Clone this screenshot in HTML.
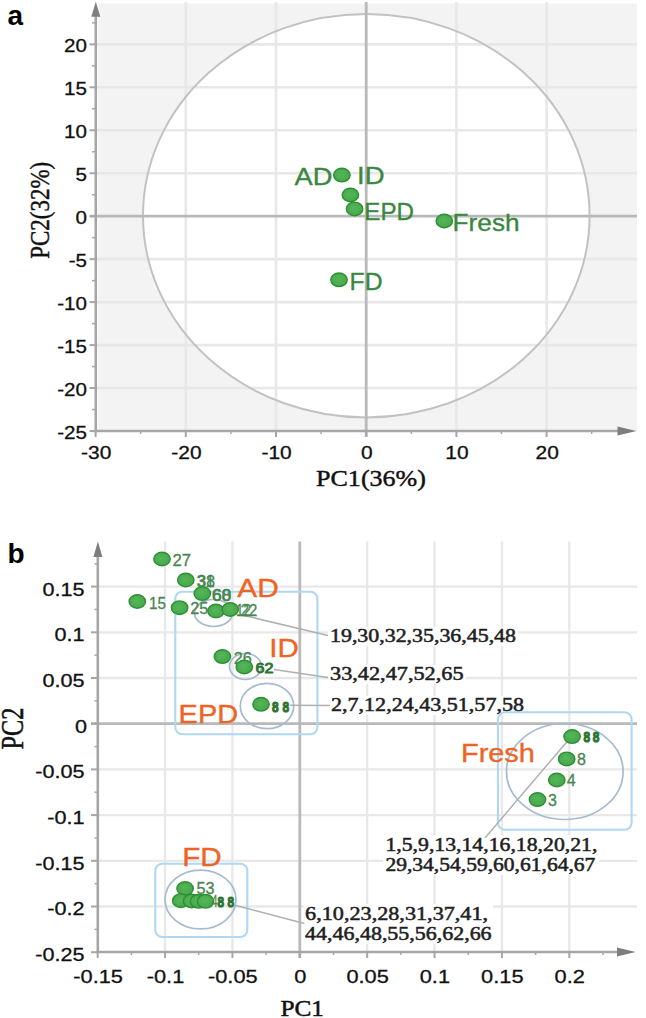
<!DOCTYPE html>
<html><head><meta charset="utf-8"><style>
html,body{margin:0;padding:0;background:#fff;}
svg{display:block;}
</style></head><body>
<svg width="646" height="1018" viewBox="0 0 646 1018">
<defs>
<radialGradient id="gd" cx="45%" cy="45%" r="60%">
<stop offset="0" stop-color="#56b55a"/><stop offset="1" stop-color="#44a849"/>
</radialGradient>
</defs>
<rect width="646" height="1018" fill="#fff"/>
<rect x="98.5" y="3.5" width="538.5" height="427.5" fill="#f3f3f3"/>
<ellipse cx="366.3" cy="215.7" rx="223.3" ry="201.7" fill="#ffffff"/>
<line x1="185.80" y1="2.00" x2="185.80" y2="431.00" stroke="#e8e8e8" stroke-width="2.6"/>
<line x1="276.00" y1="2.00" x2="276.00" y2="431.00" stroke="#e8e8e8" stroke-width="2.6"/>
<line x1="456.40" y1="2.00" x2="456.40" y2="431.00" stroke="#e8e8e8" stroke-width="2.6"/>
<line x1="546.60" y1="2.00" x2="546.60" y2="431.00" stroke="#e8e8e8" stroke-width="2.6"/>
<line x1="96.00" y1="44.34" x2="637.00" y2="44.34" stroke="#e8e8e8" stroke-width="2.6"/>
<line x1="96.00" y1="87.30" x2="637.00" y2="87.30" stroke="#e8e8e8" stroke-width="2.6"/>
<line x1="96.00" y1="130.27" x2="637.00" y2="130.27" stroke="#e8e8e8" stroke-width="2.6"/>
<line x1="96.00" y1="173.23" x2="637.00" y2="173.23" stroke="#e8e8e8" stroke-width="2.6"/>
<line x1="96.00" y1="259.16" x2="637.00" y2="259.16" stroke="#e8e8e8" stroke-width="2.6"/>
<line x1="96.00" y1="302.13" x2="637.00" y2="302.13" stroke="#e8e8e8" stroke-width="2.6"/>
<line x1="96.00" y1="345.10" x2="637.00" y2="345.10" stroke="#e8e8e8" stroke-width="2.6"/>
<line x1="96.00" y1="388.06" x2="637.00" y2="388.06" stroke="#e8e8e8" stroke-width="2.6"/>
<ellipse cx="366.3" cy="215.7" rx="223.3" ry="201.7" fill="none" stroke="#c2c2c2" stroke-width="2"/>
<line x1="366.20" y1="2.00" x2="366.20" y2="437.00" stroke="#b9b9b9" stroke-width="2.8"/>
<line x1="90.00" y1="216.20" x2="637.00" y2="216.20" stroke="#b9b9b9" stroke-width="2.8"/>
<line x1="95.80" y1="14.00" x2="95.80" y2="432.30" stroke="#a6a6a6" stroke-width="2.6"/>
<line x1="94.50" y1="431.00" x2="620.00" y2="431.00" stroke="#a6a6a6" stroke-width="2.6"/>
<polygon points="95.8,1.8 91.3,16.8 100.3,16.8" fill="#7e7e7e"/>
<polygon points="636.5,431 617.5,426.6 617.5,435.4" fill="#7e7e7e"/>
<line x1="89.50" y1="431.02" x2="96.00" y2="431.02" stroke="#a6a6a6" stroke-width="2"/>
<line x1="92.00" y1="409.54" x2="96.00" y2="409.54" stroke="#a6a6a6" stroke-width="1.5"/>
<line x1="89.50" y1="388.06" x2="96.00" y2="388.06" stroke="#a6a6a6" stroke-width="2"/>
<line x1="92.00" y1="366.58" x2="96.00" y2="366.58" stroke="#a6a6a6" stroke-width="1.5"/>
<line x1="89.50" y1="345.10" x2="96.00" y2="345.10" stroke="#a6a6a6" stroke-width="2"/>
<line x1="92.00" y1="323.61" x2="96.00" y2="323.61" stroke="#a6a6a6" stroke-width="1.5"/>
<line x1="89.50" y1="302.13" x2="96.00" y2="302.13" stroke="#a6a6a6" stroke-width="2"/>
<line x1="92.00" y1="280.65" x2="96.00" y2="280.65" stroke="#a6a6a6" stroke-width="1.5"/>
<line x1="89.50" y1="259.16" x2="96.00" y2="259.16" stroke="#a6a6a6" stroke-width="2"/>
<line x1="92.00" y1="237.68" x2="96.00" y2="237.68" stroke="#a6a6a6" stroke-width="1.5"/>
<line x1="89.50" y1="216.20" x2="96.00" y2="216.20" stroke="#a6a6a6" stroke-width="2"/>
<line x1="92.00" y1="194.72" x2="96.00" y2="194.72" stroke="#a6a6a6" stroke-width="1.5"/>
<line x1="89.50" y1="173.23" x2="96.00" y2="173.23" stroke="#a6a6a6" stroke-width="2"/>
<line x1="92.00" y1="151.75" x2="96.00" y2="151.75" stroke="#a6a6a6" stroke-width="1.5"/>
<line x1="89.50" y1="130.27" x2="96.00" y2="130.27" stroke="#a6a6a6" stroke-width="2"/>
<line x1="92.00" y1="108.79" x2="96.00" y2="108.79" stroke="#a6a6a6" stroke-width="1.5"/>
<line x1="89.50" y1="87.30" x2="96.00" y2="87.30" stroke="#a6a6a6" stroke-width="2"/>
<line x1="92.00" y1="65.82" x2="96.00" y2="65.82" stroke="#a6a6a6" stroke-width="1.5"/>
<line x1="89.50" y1="44.34" x2="96.00" y2="44.34" stroke="#a6a6a6" stroke-width="2"/>
<line x1="92.00" y1="22.86" x2="96.00" y2="22.86" stroke="#a6a6a6" stroke-width="1.5"/>
<line x1="95.60" y1="431.00" x2="95.60" y2="437.00" stroke="#a6a6a6" stroke-width="2"/>
<line x1="140.70" y1="431.00" x2="140.70" y2="434.00" stroke="#a6a6a6" stroke-width="1.5"/>
<line x1="185.80" y1="431.00" x2="185.80" y2="437.00" stroke="#a6a6a6" stroke-width="2"/>
<line x1="230.90" y1="431.00" x2="230.90" y2="434.00" stroke="#a6a6a6" stroke-width="1.5"/>
<line x1="276.00" y1="431.00" x2="276.00" y2="437.00" stroke="#a6a6a6" stroke-width="2"/>
<line x1="321.10" y1="431.00" x2="321.10" y2="434.00" stroke="#a6a6a6" stroke-width="1.5"/>
<line x1="366.20" y1="431.00" x2="366.20" y2="437.00" stroke="#a6a6a6" stroke-width="2"/>
<line x1="411.30" y1="431.00" x2="411.30" y2="434.00" stroke="#a6a6a6" stroke-width="1.5"/>
<line x1="456.40" y1="431.00" x2="456.40" y2="437.00" stroke="#a6a6a6" stroke-width="2"/>
<line x1="501.50" y1="431.00" x2="501.50" y2="434.00" stroke="#a6a6a6" stroke-width="1.5"/>
<line x1="546.60" y1="431.00" x2="546.60" y2="437.00" stroke="#a6a6a6" stroke-width="2"/>
<line x1="591.70" y1="431.00" x2="591.70" y2="434.00" stroke="#a6a6a6" stroke-width="1.5"/>
<text transform="translate(87,52.2) scale(1.17,1)" font-family='"Liberation Sans", sans-serif' font-size="17.6" fill="#111" stroke="#111" stroke-width="0.3" text-anchor="end">20</text>
<text transform="translate(87,95.2) scale(1.17,1)" font-family='"Liberation Sans", sans-serif' font-size="17.6" fill="#111" stroke="#111" stroke-width="0.3" text-anchor="end">15</text>
<text transform="translate(87,138.2) scale(1.17,1)" font-family='"Liberation Sans", sans-serif' font-size="17.6" fill="#111" stroke="#111" stroke-width="0.3" text-anchor="end">10</text>
<text transform="translate(87,181.1) scale(1.17,1)" font-family='"Liberation Sans", sans-serif' font-size="17.6" fill="#111" stroke="#111" stroke-width="0.3" text-anchor="end">5</text>
<text transform="translate(87,224.1) scale(1.17,1)" font-family='"Liberation Sans", sans-serif' font-size="17.6" fill="#111" stroke="#111" stroke-width="0.3" text-anchor="end">0</text>
<text transform="translate(87,267.1) scale(1.17,1)" font-family='"Liberation Sans", sans-serif' font-size="17.6" fill="#111" stroke="#111" stroke-width="0.3" text-anchor="end">-5</text>
<text transform="translate(87,310.0) scale(1.17,1)" font-family='"Liberation Sans", sans-serif' font-size="17.6" fill="#111" stroke="#111" stroke-width="0.3" text-anchor="end">-10</text>
<text transform="translate(87,353.0) scale(1.17,1)" font-family='"Liberation Sans", sans-serif' font-size="17.6" fill="#111" stroke="#111" stroke-width="0.3" text-anchor="end">-15</text>
<text transform="translate(87,396.0) scale(1.17,1)" font-family='"Liberation Sans", sans-serif' font-size="17.6" fill="#111" stroke="#111" stroke-width="0.3" text-anchor="end">-20</text>
<text transform="translate(87,438.9) scale(1.17,1)" font-family='"Liberation Sans", sans-serif' font-size="17.6" fill="#111" stroke="#111" stroke-width="0.3" text-anchor="end">-25</text>
<text transform="translate(96.2,459.2) scale(1.19,1)" font-family='"Liberation Sans", sans-serif' font-size="17.6" fill="#111" stroke="#111" stroke-width="0.3" text-anchor="middle">-30</text>
<text transform="translate(186.4,459.2) scale(1.19,1)" font-family='"Liberation Sans", sans-serif' font-size="17.6" fill="#111" stroke="#111" stroke-width="0.3" text-anchor="middle">-20</text>
<text transform="translate(276.6,459.2) scale(1.19,1)" font-family='"Liberation Sans", sans-serif' font-size="17.6" fill="#111" stroke="#111" stroke-width="0.3" text-anchor="middle">-10</text>
<text transform="translate(366.8,459.2) scale(1.19,1)" font-family='"Liberation Sans", sans-serif' font-size="17.6" fill="#111" stroke="#111" stroke-width="0.3" text-anchor="middle">0</text>
<text transform="translate(457.0,459.2) scale(1.19,1)" font-family='"Liberation Sans", sans-serif' font-size="17.6" fill="#111" stroke="#111" stroke-width="0.3" text-anchor="middle">10</text>
<text transform="translate(547.2,459.2) scale(1.19,1)" font-family='"Liberation Sans", sans-serif' font-size="17.6" fill="#111" stroke="#111" stroke-width="0.3" text-anchor="middle">20</text>
<text x="316.0" y="485.5" font-family='"Liberation Serif", serif' font-size="24" fill="#111" text-anchor="start" font-weight="normal" textLength="110.0" lengthAdjust="spacingAndGlyphs" stroke="#111" stroke-width="0.45">PC1(36%)</text>
<text transform="translate(49,258.8) rotate(-90)" x="0" y="0" font-family='"Liberation Serif", serif' font-size="27" fill="#111" stroke="#111" stroke-width="0.45" textLength="97" lengthAdjust="spacingAndGlyphs">PC2(32%)</text>
<text x="7.5" y="25.0" font-family='"Liberation Sans", sans-serif' font-size="28" fill="#000" text-anchor="start" font-weight="bold">a</text>
<ellipse cx="341.9" cy="175.1" rx="8.2" ry="6.8" fill="url(#gd)" stroke="#2c8f34" stroke-width="1.4"/>
<ellipse cx="350.4" cy="195.0" rx="8.2" ry="6.8" fill="url(#gd)" stroke="#2c8f34" stroke-width="1.4"/>
<ellipse cx="354.6" cy="208.9" rx="8.2" ry="6.8" fill="url(#gd)" stroke="#2c8f34" stroke-width="1.4"/>
<ellipse cx="444.3" cy="221.0" rx="8.2" ry="6.8" fill="url(#gd)" stroke="#2c8f34" stroke-width="1.4"/>
<ellipse cx="339.0" cy="279.8" rx="8.2" ry="6.8" fill="url(#gd)" stroke="#2c8f34" stroke-width="1.4"/>
<text x="294.6" y="184.6" font-family='"Liberation Sans", sans-serif' font-size="24" fill="#3a873f" text-anchor="start" font-weight="normal" textLength="37.8" lengthAdjust="spacingAndGlyphs" stroke="#3a873f" stroke-width="0.35">AD</text>
<text x="357.0" y="184.0" font-family='"Liberation Sans", sans-serif' font-size="24" fill="#3a873f" text-anchor="start" font-weight="normal" textLength="27.5" lengthAdjust="spacingAndGlyphs" stroke="#3a873f" stroke-width="0.35">ID</text>
<text x="364.3" y="219.6" font-family='"Liberation Sans", sans-serif' font-size="24" fill="#3a873f" text-anchor="start" font-weight="normal" textLength="49.7" lengthAdjust="spacingAndGlyphs" stroke="#3a873f" stroke-width="0.35">EPD</text>
<text x="452.6" y="230.8" font-family='"Liberation Sans", sans-serif' font-size="24" fill="#3a873f" text-anchor="start" font-weight="normal" textLength="67.0" lengthAdjust="spacingAndGlyphs" stroke="#3a873f" stroke-width="0.35">Fresh</text>
<text x="349.6" y="290.2" font-family='"Liberation Sans", sans-serif' font-size="24" fill="#3a873f" text-anchor="start" font-weight="normal" textLength="33.0" lengthAdjust="spacingAndGlyphs" stroke="#3a873f" stroke-width="0.35">FD</text>
<line x1="165.05" y1="541.50" x2="165.05" y2="952.00" stroke="#e8e8e8" stroke-width="2.3"/>
<line x1="232.43" y1="541.50" x2="232.43" y2="952.00" stroke="#e8e8e8" stroke-width="2.3"/>
<line x1="367.18" y1="541.50" x2="367.18" y2="952.00" stroke="#e8e8e8" stroke-width="2.3"/>
<line x1="434.55" y1="541.50" x2="434.55" y2="952.00" stroke="#e8e8e8" stroke-width="2.3"/>
<line x1="501.93" y1="541.50" x2="501.93" y2="952.00" stroke="#e8e8e8" stroke-width="2.3"/>
<line x1="569.30" y1="541.50" x2="569.30" y2="952.00" stroke="#e8e8e8" stroke-width="2.3"/>
<line x1="98.50" y1="586.60" x2="637.00" y2="586.60" stroke="#e8e8e8" stroke-width="2.3"/>
<line x1="98.50" y1="632.30" x2="637.00" y2="632.30" stroke="#e8e8e8" stroke-width="2.3"/>
<line x1="98.50" y1="678.00" x2="637.00" y2="678.00" stroke="#e8e8e8" stroke-width="2.3"/>
<line x1="98.50" y1="769.40" x2="637.00" y2="769.40" stroke="#e8e8e8" stroke-width="2.3"/>
<line x1="98.50" y1="815.10" x2="637.00" y2="815.10" stroke="#e8e8e8" stroke-width="2.3"/>
<line x1="98.50" y1="860.80" x2="637.00" y2="860.80" stroke="#e8e8e8" stroke-width="2.3"/>
<line x1="98.50" y1="906.50" x2="637.00" y2="906.50" stroke="#e8e8e8" stroke-width="2.3"/>
<line x1="299.80" y1="541.50" x2="299.80" y2="958.00" stroke="#b9b9b9" stroke-width="2.8"/>
<line x1="91.00" y1="723.70" x2="637.00" y2="723.70" stroke="#b9b9b9" stroke-width="2.8"/>
<line x1="97.80" y1="555.00" x2="97.80" y2="953.30" stroke="#a6a6a6" stroke-width="2.6"/>
<line x1="96.50" y1="952.00" x2="618.00" y2="952.00" stroke="#a6a6a6" stroke-width="2.6"/>
<polygon points="97.9,541.5 93.4,557 102.4,557" fill="#7e7e7e"/>
<polygon points="635.7,952 617,947.6 617,956.4" fill="#7e7e7e"/>
<line x1="91.00" y1="952.20" x2="98.50" y2="952.20" stroke="#a6a6a6" stroke-width="2"/>
<line x1="94.50" y1="929.35" x2="98.50" y2="929.35" stroke="#a6a6a6" stroke-width="1.5"/>
<line x1="91.00" y1="906.50" x2="98.50" y2="906.50" stroke="#a6a6a6" stroke-width="2"/>
<line x1="94.50" y1="883.65" x2="98.50" y2="883.65" stroke="#a6a6a6" stroke-width="1.5"/>
<line x1="91.00" y1="860.80" x2="98.50" y2="860.80" stroke="#a6a6a6" stroke-width="2"/>
<line x1="94.50" y1="837.95" x2="98.50" y2="837.95" stroke="#a6a6a6" stroke-width="1.5"/>
<line x1="91.00" y1="815.10" x2="98.50" y2="815.10" stroke="#a6a6a6" stroke-width="2"/>
<line x1="94.50" y1="792.25" x2="98.50" y2="792.25" stroke="#a6a6a6" stroke-width="1.5"/>
<line x1="91.00" y1="769.40" x2="98.50" y2="769.40" stroke="#a6a6a6" stroke-width="2"/>
<line x1="94.50" y1="746.55" x2="98.50" y2="746.55" stroke="#a6a6a6" stroke-width="1.5"/>
<line x1="91.00" y1="723.70" x2="98.50" y2="723.70" stroke="#a6a6a6" stroke-width="2"/>
<line x1="94.50" y1="700.85" x2="98.50" y2="700.85" stroke="#a6a6a6" stroke-width="1.5"/>
<line x1="91.00" y1="678.00" x2="98.50" y2="678.00" stroke="#a6a6a6" stroke-width="2"/>
<line x1="94.50" y1="655.15" x2="98.50" y2="655.15" stroke="#a6a6a6" stroke-width="1.5"/>
<line x1="91.00" y1="632.30" x2="98.50" y2="632.30" stroke="#a6a6a6" stroke-width="2"/>
<line x1="94.50" y1="609.45" x2="98.50" y2="609.45" stroke="#a6a6a6" stroke-width="1.5"/>
<line x1="91.00" y1="586.60" x2="98.50" y2="586.60" stroke="#a6a6a6" stroke-width="2"/>
<line x1="94.50" y1="563.75" x2="98.50" y2="563.75" stroke="#a6a6a6" stroke-width="1.5"/>
<line x1="97.67" y1="952.00" x2="97.67" y2="958.00" stroke="#a6a6a6" stroke-width="2"/>
<line x1="131.36" y1="952.00" x2="131.36" y2="955.00" stroke="#a6a6a6" stroke-width="1.5"/>
<line x1="165.05" y1="952.00" x2="165.05" y2="958.00" stroke="#a6a6a6" stroke-width="2"/>
<line x1="198.74" y1="952.00" x2="198.74" y2="955.00" stroke="#a6a6a6" stroke-width="1.5"/>
<line x1="232.43" y1="952.00" x2="232.43" y2="958.00" stroke="#a6a6a6" stroke-width="2"/>
<line x1="266.11" y1="952.00" x2="266.11" y2="955.00" stroke="#a6a6a6" stroke-width="1.5"/>
<line x1="299.80" y1="952.00" x2="299.80" y2="958.00" stroke="#a6a6a6" stroke-width="2"/>
<line x1="333.49" y1="952.00" x2="333.49" y2="955.00" stroke="#a6a6a6" stroke-width="1.5"/>
<line x1="367.18" y1="952.00" x2="367.18" y2="958.00" stroke="#a6a6a6" stroke-width="2"/>
<line x1="400.86" y1="952.00" x2="400.86" y2="955.00" stroke="#a6a6a6" stroke-width="1.5"/>
<line x1="434.55" y1="952.00" x2="434.55" y2="958.00" stroke="#a6a6a6" stroke-width="2"/>
<line x1="468.24" y1="952.00" x2="468.24" y2="955.00" stroke="#a6a6a6" stroke-width="1.5"/>
<line x1="501.93" y1="952.00" x2="501.93" y2="958.00" stroke="#a6a6a6" stroke-width="2"/>
<line x1="535.61" y1="952.00" x2="535.61" y2="955.00" stroke="#a6a6a6" stroke-width="1.5"/>
<line x1="569.30" y1="952.00" x2="569.30" y2="958.00" stroke="#a6a6a6" stroke-width="2"/>
<line x1="602.99" y1="952.00" x2="602.99" y2="955.00" stroke="#a6a6a6" stroke-width="1.5"/>
<text transform="translate(84.6,595.5) scale(1.15,1)" font-family='"Liberation Sans", sans-serif' font-size="18.8" fill="#111" stroke="#111" stroke-width="0.3" text-anchor="end">0.15</text>
<text transform="translate(84.6,641.2) scale(1.15,1)" font-family='"Liberation Sans", sans-serif' font-size="18.8" fill="#111" stroke="#111" stroke-width="0.3" text-anchor="end">0.1</text>
<text transform="translate(84.6,686.9) scale(1.15,1)" font-family='"Liberation Sans", sans-serif' font-size="18.8" fill="#111" stroke="#111" stroke-width="0.3" text-anchor="end">0.05</text>
<text transform="translate(86.9,732.6) scale(1.15,1)" font-family='"Liberation Sans", sans-serif' font-size="18.8" fill="#111" stroke="#111" stroke-width="0.3" text-anchor="end">0</text>
<text transform="translate(84.6,778.3) scale(1.15,1)" font-family='"Liberation Sans", sans-serif' font-size="18.8" fill="#111" stroke="#111" stroke-width="0.3" text-anchor="end">-0.05</text>
<text transform="translate(84.6,824.0) scale(1.15,1)" font-family='"Liberation Sans", sans-serif' font-size="18.8" fill="#111" stroke="#111" stroke-width="0.3" text-anchor="end">-0.1</text>
<text transform="translate(84.6,869.7) scale(1.15,1)" font-family='"Liberation Sans", sans-serif' font-size="18.8" fill="#111" stroke="#111" stroke-width="0.3" text-anchor="end">-0.15</text>
<text transform="translate(84.6,915.4) scale(1.15,1)" font-family='"Liberation Sans", sans-serif' font-size="18.8" fill="#111" stroke="#111" stroke-width="0.3" text-anchor="end">-0.2</text>
<text transform="translate(84.6,961.1) scale(1.15,1)" font-family='"Liberation Sans", sans-serif' font-size="18.8" fill="#111" stroke="#111" stroke-width="0.3" text-anchor="end">-0.25</text>
<text transform="translate(98.1,983.2) scale(1.16,1)" font-family='"Liberation Sans", sans-serif' font-size="18.8" fill="#111" stroke="#111" stroke-width="0.3" text-anchor="middle">-0.15</text>
<text transform="translate(165.5,983.2) scale(1.16,1)" font-family='"Liberation Sans", sans-serif' font-size="18.8" fill="#111" stroke="#111" stroke-width="0.3" text-anchor="middle">-0.1</text>
<text transform="translate(232.8,983.2) scale(1.16,1)" font-family='"Liberation Sans", sans-serif' font-size="18.8" fill="#111" stroke="#111" stroke-width="0.3" text-anchor="middle">-0.05</text>
<text transform="translate(300.2,983.2) scale(1.16,1)" font-family='"Liberation Sans", sans-serif' font-size="18.8" fill="#111" stroke="#111" stroke-width="0.3" text-anchor="middle">0</text>
<text transform="translate(367.6,983.2) scale(1.16,1)" font-family='"Liberation Sans", sans-serif' font-size="18.8" fill="#111" stroke="#111" stroke-width="0.3" text-anchor="middle">0.05</text>
<text transform="translate(434.9,983.2) scale(1.16,1)" font-family='"Liberation Sans", sans-serif' font-size="18.8" fill="#111" stroke="#111" stroke-width="0.3" text-anchor="middle">0.1</text>
<text transform="translate(502.3,983.2) scale(1.16,1)" font-family='"Liberation Sans", sans-serif' font-size="18.8" fill="#111" stroke="#111" stroke-width="0.3" text-anchor="middle">0.15</text>
<text transform="translate(569.7,983.2) scale(1.16,1)" font-family='"Liberation Sans", sans-serif' font-size="18.8" fill="#111" stroke="#111" stroke-width="0.3" text-anchor="middle">0.2</text>
<text x="280.5" y="1016.0" font-family='"Liberation Serif", serif' font-size="23" fill="#111" text-anchor="start" font-weight="normal" textLength="43.5" lengthAdjust="spacingAndGlyphs" stroke="#111" stroke-width="0.5">PC1</text>
<text transform="translate(23,749.5) rotate(-90)" x="0" y="0" font-family='"Liberation Serif", serif' font-size="31" fill="#111" stroke="#111" stroke-width="0.5" textLength="42" lengthAdjust="spacingAndGlyphs">PC2</text>
<text x="7.5" y="562.5" font-family='"Liberation Sans", sans-serif' font-size="28" fill="#000" text-anchor="start" font-weight="bold">b</text>
<rect x="328" y="627" width="190" height="19" fill="#fff"/>
<rect x="328" y="665" width="138" height="19" fill="#fff"/>
<rect x="329" y="696" width="197" height="19" fill="#fff"/>
<rect x="383" y="835" width="216" height="40" fill="#fff"/>
<rect x="303.5" y="904" width="189.5" height="40" fill="#fff"/>
<rect x="175.3" y="591.7" width="142.1" height="142.6" rx="7" fill="none" stroke="#b0d8f2" stroke-width="2.1"/>
<rect x="498" y="712.3" width="133.6" height="117.5" rx="7" fill="none" stroke="#b0d8f2" stroke-width="2.1"/>
<rect x="155.3" y="863.7" width="92" height="73.3" rx="7" fill="none" stroke="#b0d8f2" stroke-width="2.1"/>
<ellipse cx="213.5" cy="613" rx="19" ry="13.5" fill="none" stroke="#a6bbcf" stroke-width="1.7"/>
<ellipse cx="245.5" cy="666.5" rx="16" ry="13" fill="none" stroke="#a6bbcf" stroke-width="1.7"/>
<ellipse cx="267" cy="706" rx="26.7" ry="22.7" fill="none" stroke="#a6bbcf" stroke-width="1.7"/>
<ellipse cx="564.8" cy="771.5" rx="58.3" ry="48" fill="none" stroke="#a6bbcf" stroke-width="1.7"/>
<ellipse cx="200.5" cy="899.5" rx="35.5" ry="29.4" fill="none" stroke="#a6bbcf" stroke-width="1.7"/>
<line x1="242.00" y1="615.00" x2="328.00" y2="635.50" stroke="#b0b0b0" stroke-width="1.5"/>
<line x1="274.00" y1="669.60" x2="328.00" y2="677.40" stroke="#b0b0b0" stroke-width="1.5"/>
<line x1="290.00" y1="705.20" x2="330.00" y2="705.40" stroke="#b0b0b0" stroke-width="1.5"/>
<line x1="570.60" y1="737.40" x2="485.20" y2="837.70" stroke="#b0b0b0" stroke-width="1.5"/>
<line x1="236.00" y1="905.50" x2="304.40" y2="923.60" stroke="#b0b0b0" stroke-width="1.5"/>
<ellipse cx="162.0" cy="559.0" rx="8.2" ry="6.8" fill="url(#gd)" stroke="#2c8f34" stroke-width="1.4"/>
<text x="172.5" y="565.9" font-family='"Liberation Sans", sans-serif' font-size="16" fill="#4a8650" text-anchor="start" font-weight="normal" textLength="18.5" lengthAdjust="spacingAndGlyphs" stroke="#4a8650" stroke-width="0.3">27</text>
<ellipse cx="185.8" cy="580.0" rx="8.2" ry="6.8" fill="url(#gd)" stroke="#2c8f34" stroke-width="1.4"/>
<text x="196.5" y="587.4" font-family='"Liberation Sans", sans-serif' font-size="16" fill="#4a8650" text-anchor="start" font-weight="normal" textLength="18.0" lengthAdjust="spacingAndGlyphs" stroke="#4a8650" stroke-width="0.3">31</text>
<text x="197.5" y="587.4" font-family='"Liberation Sans", sans-serif' font-size="16" fill="#4a8650" text-anchor="start" font-weight="normal" textLength="17.5" lengthAdjust="spacingAndGlyphs" stroke="#4a8650" stroke-width="0.3">38</text>
<ellipse cx="202.3" cy="593.6" rx="8.2" ry="6.8" fill="url(#gd)" stroke="#2c8f34" stroke-width="1.4"/>
<text x="211.8" y="600.6" font-family='"Liberation Sans", sans-serif' font-size="16" fill="#4a8650" text-anchor="start" font-weight="normal" textLength="19.5" lengthAdjust="spacingAndGlyphs" stroke="#4a8650" stroke-width="0.3">68</text>
<text x="212.3" y="600.6" font-family='"Liberation Sans", sans-serif' font-size="16" fill="#4a8650" text-anchor="start" font-weight="normal" textLength="19.0" lengthAdjust="spacingAndGlyphs" stroke="#4a8650" stroke-width="0.3">60</text>
<ellipse cx="137.3" cy="601.5" rx="8.2" ry="6.8" fill="url(#gd)" stroke="#2c8f34" stroke-width="1.4"/>
<text x="149.0" y="609.0" font-family='"Liberation Sans", sans-serif' font-size="16" fill="#4a8650" text-anchor="start" font-weight="normal" textLength="17.0" lengthAdjust="spacingAndGlyphs" stroke="#4a8650" stroke-width="0.3">15</text>
<text x="190.3" y="614.1" font-family='"Liberation Sans", sans-serif' font-size="16" fill="#4a8650" text-anchor="start" font-weight="normal" textLength="18.0" lengthAdjust="spacingAndGlyphs" stroke="#4a8650" stroke-width="0.3">25</text>
<ellipse cx="179.6" cy="607.7" rx="8.2" ry="6.8" fill="url(#gd)" stroke="#2c8f34" stroke-width="1.4"/>
<ellipse cx="216.0" cy="611.0" rx="8.2" ry="6.8" fill="url(#gd)" stroke="#2c8f34" stroke-width="1.4"/>
<ellipse cx="230.2" cy="609.5" rx="8.2" ry="6.8" fill="url(#gd)" stroke="#2c8f34" stroke-width="1.4"/>
<text x="236.0" y="616.1" font-family='"Liberation Sans", sans-serif' font-size="16" fill="#4a8650" text-anchor="start" font-weight="normal" textLength="15.0" lengthAdjust="spacingAndGlyphs" stroke="#4a8650" stroke-width="0.3">12</text>
<text x="240.8" y="616.1" font-family='"Liberation Sans", sans-serif' font-size="16" fill="#4a8650" text-anchor="start" font-weight="normal" textLength="16.5" lengthAdjust="spacingAndGlyphs" stroke="#4a8650" stroke-width="0.3">22</text>
<ellipse cx="222.4" cy="656.6" rx="8.2" ry="6.8" fill="url(#gd)" stroke="#2c8f34" stroke-width="1.4"/>
<text x="233.8" y="664.0" font-family='"Liberation Sans", sans-serif' font-size="16" fill="#4a8650" text-anchor="start" font-weight="normal" textLength="18.0" lengthAdjust="spacingAndGlyphs" stroke="#4a8650" stroke-width="0.3">26</text>
<ellipse cx="244.3" cy="667.0" rx="8.2" ry="6.8" fill="url(#gd)" stroke="#2c8f34" stroke-width="1.4"/>
<text x="255.6" y="673.2" font-family='"Liberation Sans", sans-serif' font-size="15" fill="#2d7432" text-anchor="start" font-weight="normal" textLength="18.0" lengthAdjust="spacingAndGlyphs" stroke="#2d7432" stroke-width="0.9">62</text>
<ellipse cx="261.0" cy="704.3" rx="8.2" ry="6.8" fill="url(#gd)" stroke="#2c8f34" stroke-width="1.4"/>
<text x="272.0" y="711.7" font-family='"Liberation Sans", sans-serif' font-size="14.5" font-weight="bold" fill="#2d7432" stroke="#2d7432" stroke-width="1.1" textLength="6.6" lengthAdjust="spacingAndGlyphs">8</text>
<text x="282.4" y="711.7" font-family='"Liberation Sans", sans-serif' font-size="14.5" font-weight="bold" fill="#2d7432" stroke="#2d7432" stroke-width="1.1" textLength="6.6" lengthAdjust="spacingAndGlyphs">8</text>
<ellipse cx="572.1" cy="736.6" rx="8.2" ry="6.8" fill="url(#gd)" stroke="#2c8f34" stroke-width="1.4"/>
<text x="583.6" y="742.2" font-family='"Liberation Sans", sans-serif' font-size="14.5" font-weight="bold" fill="#2d7432" stroke="#2d7432" stroke-width="1.1" textLength="6.6" lengthAdjust="spacingAndGlyphs">8</text>
<text x="592.8" y="742.2" font-family='"Liberation Sans", sans-serif' font-size="14.5" font-weight="bold" fill="#2d7432" stroke="#2d7432" stroke-width="1.1" textLength="6.6" lengthAdjust="spacingAndGlyphs">8</text>
<ellipse cx="566.7" cy="758.9" rx="8.2" ry="6.8" fill="url(#gd)" stroke="#2c8f34" stroke-width="1.4"/>
<text x="577.0" y="764.6" font-family='"Liberation Sans", sans-serif' font-size="16" fill="#4a8650" text-anchor="start" font-weight="normal" stroke="#4a8650" stroke-width="0.3">8</text>
<ellipse cx="556.8" cy="780.0" rx="8.2" ry="6.8" fill="url(#gd)" stroke="#2c8f34" stroke-width="1.4"/>
<text x="566.8" y="785.9" font-family='"Liberation Sans", sans-serif' font-size="16" fill="#4a8650" text-anchor="start" font-weight="normal" stroke="#4a8650" stroke-width="0.3">4</text>
<ellipse cx="537.5" cy="799.6" rx="8.2" ry="6.8" fill="url(#gd)" stroke="#2c8f34" stroke-width="1.4"/>
<text x="548.0" y="805.6" font-family='"Liberation Sans", sans-serif' font-size="16" fill="#4a8650" text-anchor="start" font-weight="normal" stroke="#4a8650" stroke-width="0.3">3</text>
<ellipse cx="185.1" cy="888.6" rx="8.2" ry="6.8" fill="url(#gd)" stroke="#2c8f34" stroke-width="1.4"/>
<text x="196.6" y="894.2" font-family='"Liberation Sans", sans-serif' font-size="16" fill="#4a8650" text-anchor="start" font-weight="normal" textLength="18.0" lengthAdjust="spacingAndGlyphs" stroke="#4a8650" stroke-width="0.3">53</text>
<ellipse cx="180.8" cy="900.7" rx="8.2" ry="6.8" fill="url(#gd)" stroke="#2c8f34" stroke-width="1.4"/>
<ellipse cx="191.6" cy="901.0" rx="8.2" ry="6.8" fill="url(#gd)" stroke="#2c8f34" stroke-width="1.4"/>
<ellipse cx="198.5" cy="901.3" rx="8.2" ry="6.8" fill="url(#gd)" stroke="#2c8f34" stroke-width="1.4"/>
<ellipse cx="205.5" cy="901.3" rx="8.2" ry="6.8" fill="url(#gd)" stroke="#2c8f34" stroke-width="1.4"/>
<text x="217.6" y="907.2" font-family='"Liberation Sans", sans-serif' font-size="14.5" font-weight="bold" fill="#2d7432" stroke="#2d7432" stroke-width="1.1" textLength="6.6" lengthAdjust="spacingAndGlyphs">8</text>
<text x="227.4" y="907.2" font-family='"Liberation Sans", sans-serif' font-size="14.5" font-weight="bold" fill="#2d7432" stroke="#2d7432" stroke-width="1.1" textLength="6.6" lengthAdjust="spacingAndGlyphs">8</text>
<text x="211.5" y="907.2" font-family='"Liberation Sans", sans-serif' font-size="16" fill="#4a8650" text-anchor="start" font-weight="normal" textLength="6.0" lengthAdjust="spacingAndGlyphs" stroke="#4a8650" stroke-width="0.3">4</text>
<text x="237.3" y="597.3" font-family='"Liberation Sans", sans-serif' font-size="25" fill="#ee6424" text-anchor="start" font-weight="normal" textLength="41.5" lengthAdjust="spacingAndGlyphs" stroke="#ee6424" stroke-width="0.35">AD</text>
<text x="269.3" y="657.0" font-family='"Liberation Sans", sans-serif' font-size="25" fill="#ee6424" text-anchor="start" font-weight="normal" textLength="29.5" lengthAdjust="spacingAndGlyphs" stroke="#ee6424" stroke-width="0.35">ID</text>
<text x="178.6" y="722.8" font-family='"Liberation Sans", sans-serif' font-size="25" fill="#ee6424" text-anchor="start" font-weight="normal" textLength="59.6" lengthAdjust="spacingAndGlyphs" stroke="#ee6424" stroke-width="0.35">EPD</text>
<text x="461.0" y="761.8" font-family='"Liberation Sans", sans-serif' font-size="25" fill="#ee6424" text-anchor="start" font-weight="normal" textLength="73.8" lengthAdjust="spacingAndGlyphs" stroke="#ee6424" stroke-width="0.35">Fresh</text>
<text x="182.2" y="866.1" font-family='"Liberation Sans", sans-serif' font-size="25" fill="#ee6424" text-anchor="start" font-weight="normal" textLength="39.5" lengthAdjust="spacingAndGlyphs" stroke="#ee6424" stroke-width="0.35">FD</text>
<text x="330.0" y="642.3" font-family='"Liberation Serif", serif' font-size="18" fill="#1e1e1e" text-anchor="start" font-weight="normal" textLength="186.0" lengthAdjust="spacingAndGlyphs" stroke="#222" stroke-width="0.5">19,30,32,35,36,45,48</text>
<text x="330.0" y="680.4" font-family='"Liberation Serif", serif' font-size="18" fill="#1e1e1e" text-anchor="start" font-weight="normal" textLength="133.5" lengthAdjust="spacingAndGlyphs" stroke="#222" stroke-width="0.5">33,42,47,52,65</text>
<text x="331.0" y="711.1" font-family='"Liberation Serif", serif' font-size="18" fill="#1e1e1e" text-anchor="start" font-weight="normal" textLength="193.0" lengthAdjust="spacingAndGlyphs" stroke="#222" stroke-width="0.5">2,7,12,24,43,51,57,58</text>
<text x="385.4" y="850.7" font-family='"Liberation Serif", serif' font-size="18" fill="#1e1e1e" text-anchor="start" font-weight="normal" textLength="212.0" lengthAdjust="spacingAndGlyphs" stroke="#222" stroke-width="0.5">1,5,9,13,14,16,18,20,21,</text>
<text x="385.4" y="871.2" font-family='"Liberation Serif", serif' font-size="18" fill="#1e1e1e" text-anchor="start" font-weight="normal" textLength="210.0" lengthAdjust="spacingAndGlyphs" stroke="#222" stroke-width="0.5">29,34,54,59,60,61,64,67</text>
<text x="305.1" y="920.0" font-family='"Liberation Serif", serif' font-size="18" fill="#1e1e1e" text-anchor="start" font-weight="normal" textLength="183.0" lengthAdjust="spacingAndGlyphs" stroke="#222" stroke-width="0.5">6,10,23,28,31,37,41,</text>
<text x="305.1" y="940.4" font-family='"Liberation Serif", serif' font-size="18" fill="#1e1e1e" text-anchor="start" font-weight="normal" textLength="186.5" lengthAdjust="spacingAndGlyphs" stroke="#222" stroke-width="0.5">44,46,48,55,56,62,66</text>
</svg>
</body></html>
